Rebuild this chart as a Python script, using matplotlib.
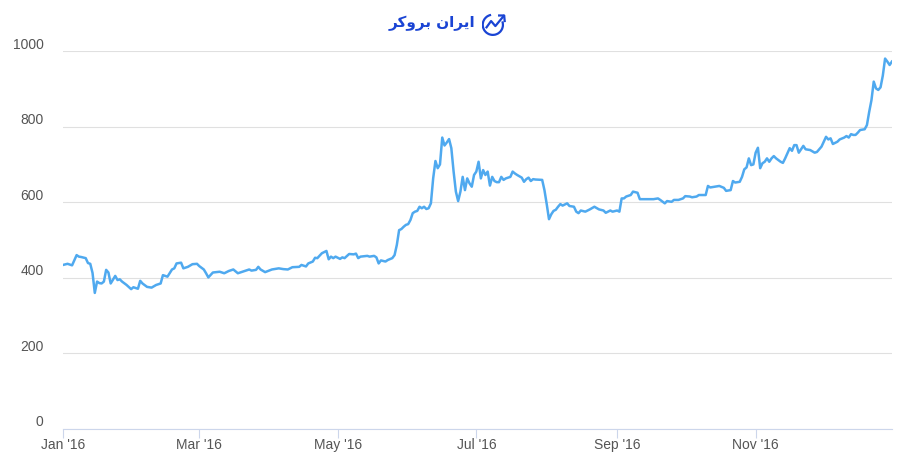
import numpy as np
import pandas as pd
import matplotlib
matplotlib.use('Agg')
import matplotlib.pyplot as plt
import matplotlib.dates as mdates
from matplotlib.transforms import ScaledTranslation
from matplotlib.patches import Arc

# day offset from 2016-01-01
days = [0, 2, 4, 6, 7, 8, 10, 11, 12, 13,
        14, 15, 16, 17, 18, 19, 20, 21, 23, 24,
        25, 26, 28, 30, 31, 33, 34, 35, 37, 39,
        41, 43, 44, 46, 48, 49, 50, 52, 53, 55,
        57, 59, 60, 62, 63, 64, 66, 69, 71, 73,
        75, 77, 79, 82, 83, 85, 86, 87, 89, 92,
        95, 97, 99, 101, 104, 105, 107, 108, 110, 111,
        112, 114, 116, 117, 118, 119, 120, 122, 123, 124,
        126, 128, 129, 130, 131, 134, 135, 137, 138, 139,
        140, 142, 143, 145, 146, 147, 148, 149, 150, 151,
        152, 153, 154, 155, 156, 157, 158, 159, 160, 161,
        162, 163, 164, 165, 166, 167, 168, 169, 170, 171,
        172, 173, 174, 175, 176, 177, 178, 179, 180, 181,
        182, 183, 184, 185, 186, 187, 188, 189, 190, 191,
        192, 193, 194, 195, 197, 198, 199, 200, 202, 203,
        204, 205, 206, 207, 208, 211, 212, 213, 214, 215,
        216, 217, 218, 219, 220, 222, 223, 225, 226, 227,
        228, 230, 232, 234, 236, 238, 239, 241, 242, 244,
        245, 246, 247, 248, 250, 251, 253, 254, 256, 258,
        260, 262, 263, 265, 266, 268, 269, 271, 273, 274,
        276, 277, 279, 280, 283, 284, 285, 287, 289, 291,
        292, 294, 295, 296, 298, 299, 300, 301, 302, 303,
        304, 305, 306, 307, 308, 309, 310, 311, 312, 313,
        314, 316, 317, 318, 320, 321, 322, 323, 324, 326,
        327, 329, 331, 332, 334, 335, 336, 337, 338, 339,
        341, 342, 344, 345, 346, 347, 348, 349, 350, 351,
        353, 354, 355, 356, 357, 358, 359, 360, 361, 362,
        363, 364, 365]
# price in USD
price = [434, 437, 433, 460, 456, 455, 452, 439, 437, 413,
         360, 390, 386, 385, 390, 421, 414, 385, 405, 394,
         396, 390, 381, 370, 375, 371, 392, 385, 376, 374,
         381, 385, 407, 403, 422, 425, 438, 440, 425, 429,
         436, 437, 431, 422, 412, 401, 414, 416, 412, 418,
         422, 412, 416, 422, 419, 421, 429, 422, 415, 422,
         425, 423, 422, 428, 429, 434, 430, 438, 443, 453,
         452, 465, 471, 449, 456, 452, 456, 450, 454, 452,
         463, 462, 464, 452, 456, 458, 456, 458, 454, 438,
         446, 443, 447, 452, 460, 487, 526, 529, 535, 540,
         542, 553, 571, 575, 577, 588, 584, 588, 582, 584,
         597, 663, 709, 690, 700, 771, 750, 758, 767, 743,
         681, 628, 603, 628, 667, 632, 663, 650, 641, 672,
         681, 707, 663, 685, 672, 681, 644, 667, 656, 653,
         653, 667, 659, 663, 667, 681, 676, 672, 665, 654,
         661, 665, 656, 661, 660, 659, 632, 595, 555, 568,
         577, 580, 588, 595, 591, 597, 590, 588, 575, 571,
         578, 575, 581, 588, 581, 578, 572, 578, 575, 578,
         575, 610, 610, 615, 619, 628, 625, 608, 608, 608,
         608, 610, 606, 597, 603, 601, 606, 606, 610, 616,
         615, 613, 615, 619, 619, 643, 639, 641, 643, 638,
         630, 632, 656, 652, 654, 667, 687, 692, 716, 698,
         700, 731, 744, 690, 703, 707, 716, 707, 716, 722,
         716, 707, 704, 716, 743, 736, 751, 751, 731, 749,
         740, 738, 731, 733, 747, 760, 773, 766, 769, 754,
         760, 766, 771, 775, 771, 780, 778, 778, 784, 791,
         793, 804, 839, 870, 919, 901, 897, 904, 935, 980,
         972, 963, 972]

y_ticks = [0, 200, 400, 600, 800, 1000]
x_tick_months = [1, 3, 5, 7, 9, 11]
logo_text = '\ufeae\ufb90\ufeed\ufeae\ufe91 \ufee5\ufe8d\ufeae\ufbfe\ufe8d'  # ایران بروکر

plt.rcParams['font.family'] = ['Liberation Sans', 'DejaVu Sans']

dates = pd.Timestamp('2016-01-01') + pd.to_timedelta(days, unit='D')

fig = plt.figure(figsize=(9, 4.71), dpi=100)
ax = fig.add_axes([0.07, 0.0892, 0.921, 0.8025])

ax.plot(dates, price, color='#4fa9ef', linewidth=1.8, solid_joinstyle='round')

ax.set_xlim(pd.Timestamp('2016-01-01'), pd.Timestamp('2016-12-31'))
ax.set_ylim(0, 1000)
ax.set_yticks(y_ticks)
ax.grid(axis='y', color='#e0e0e0', linewidth=0.8)
ax.set_axisbelow(True)

for s in ['top', 'right', 'left']:
    ax.spines[s].set_visible(False)
ax.spines['bottom'].set_color('#ccd6eb')
ax.spines['bottom'].set_linewidth(0.8)

ax.xaxis.set_major_locator(mdates.MonthLocator(bymonth=x_tick_months))
ax.xaxis.set_major_formatter(mdates.DateFormatter("%b '%y"))
ax.tick_params(axis='x', colors='#ccd6eb', length=6.5, width=0.8, labelcolor='#555555',
               labelsize=10, pad=0)
ax.tick_params(axis='y', length=0, labelcolor='#555555', labelsize=10, pad=14)

# y labels sit a bit above their grid line
shift = ScaledTranslation(0, 0.08, fig.dpi_scale_trans)
for lab in ax.get_yticklabels():
    lab.set_transform(lab.get_transform() + shift)

# header logo
fig.text(0.528, 0.951, logo_text, color='#1a44d4', fontsize=11, fontweight='bold',
         family=['DejaVu Sans'], ha='right', va='center')
icon = fig.add_axes([0.535, 0.915, 0.028, 0.07])
icon.set_xlim(0, 1)
icon.set_ylim(0, 1)
icon.set_aspect('equal')
icon.axis('off')
icon.add_patch(Arc((0.45, 0.45), 0.8, 0.8, theta1=100, theta2=380, color='#1a44d4', lw=1.6))
icon.plot([0.2, 0.38, 0.55, 0.88], [0.35, 0.6, 0.4, 0.8], color='#1a44d4', lw=1.6)
icon.plot([0.7, 0.9, 0.92], [0.82, 0.82, 0.6], color='#1a44d4', lw=1.6)

fig.savefig('out.png', dpi=100)
